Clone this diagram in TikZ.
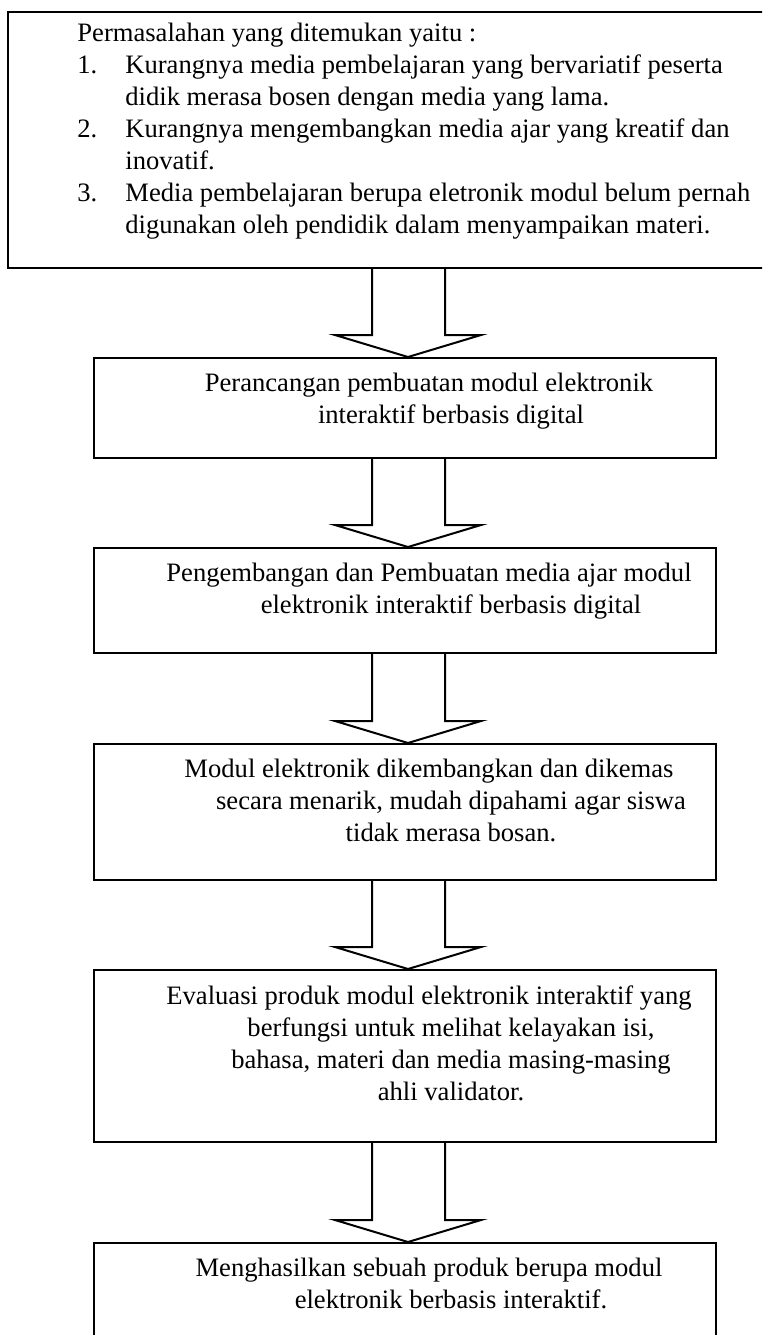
\documentclass[tikz,border=0pt]{standalone}
\usepackage{fontspec}
\setmainfont{Liberation Serif}
\usetikzlibrary{calc}

% numbered item with hanging indent
\newcommand{\butir}[2]{\makebox[24pt][l]{#1}#2}
\newcommand{\lanjut}{\hspace*{24pt}}

% hollow block arrow from the bottom of one box to the top of the next
\newcommand{\panahblok}[2]{%
  \draw[panah] (372,0 |- #1.south) -- ($(372,0 |- #2.north)+(0,-22)$)
    -- ($(335,0 |- #2.north)+(0,-22)$) -- (408,0 |- #2.north)
    -- ($(481,0 |- #2.north)+(0,-22)$) -- ($(445,0 |- #2.north)+(0,-22)$)
    -- (445,0 |- #1.south);}

\begin{document}
\begin{tikzpicture}[
    x=0.5pt, y=-0.5pt, % one unit is one pixel, y runs down
    kotak/.style={draw, line width=1pt, rectangle, minimum width=311pt, inner sep=0pt, anchor=north},
    teks/.style={font=\fontsize{13.3}{16}\selectfont, inner sep=0pt, align=center, anchor=north},
    panah/.style={line width=1pt, line join=miter}
]

\useasboundingbox (0,0) rectangle (762,1335);
\clip (0,0) rectangle (762,1335);

% Boxes
\node[kotak, minimum width=384pt, minimum height=128pt, anchor=north west] (masalah) at (7,11) {};
\node[kotak, minimum height=50pt] (rancang) at (405,357) {};
\node[kotak, minimum height=52.5pt] (kembang) at (405,547) {};
\node[kotak, minimum height=68pt] (kemas) at (405,743) {};
\node[kotak, minimum height=86pt] (evaluasi) at (405,969) {};
\node[kotak, minimum height=60pt] (hasil) at (405,1242) {};

% Texts
\node[teks, align=left, anchor=north west] (tmasalah) at ($(masalah.north west)+(70,12)$) {%
  Permasalahan yang ditemukan yaitu :\\
  \butir{1.}{Kurangnya media pembelajaran yang bervariatif peserta}\\
  \lanjut didik merasa bosen dengan media yang lama.\\
  \butir{2.}{Kurangnya mengembangkan media ajar yang kreatif dan}\\
  \lanjut inovatif.\\
  \butir{3.}{Media pembelajaran berupa eletronik modul belum pernah}\\
  \lanjut digunakan oleh pendidik dalam menyampaikan materi.};

\node[teks] (trancang) at ($(rancang.north)+(46,16)$) {%
  \hspace*{-22pt}Perancangan pembuatan modul elektronik\\
  interaktif berbasis digital};

\node[teks] (tkembang) at ($(kembang.north)+(46,16)$) {%
  \hspace*{-22pt}Pengembangan dan Pembuatan media ajar modul\\
  elektronik interaktif berbasis digital};

\node[teks] (tkemas) at ($(kemas.north)+(46,16)$) {%
  \hspace*{-22pt}Modul elektronik dikembangkan dan dikemas\\
  secara menarik, mudah dipahami agar siswa\\
  tidak merasa bosan.};

\node[teks] (tevaluasi) at ($(evaluasi.north)+(46,16)$) {%
  \hspace*{-22pt}Evaluasi produk modul elektronik interaktif yang\\
  berfungsi untuk melihat kelayakan isi,\\
  bahasa, materi dan media masing-masing\\
  ahli validator.};

\node[teks] (thasil) at ($(hasil.north)+(46,16)$) {%
  \hspace*{-22pt}Menghasilkan sebuah produk berupa modul\\
  elektronik berbasis interaktif.};

% Arrows
\panahblok{masalah}{rancang}
\panahblok{rancang}{kembang}
\panahblok{kembang}{kemas}
\panahblok{kemas}{evaluasi}
\panahblok{evaluasi}{hasil}

\end{tikzpicture}
\end{document}
